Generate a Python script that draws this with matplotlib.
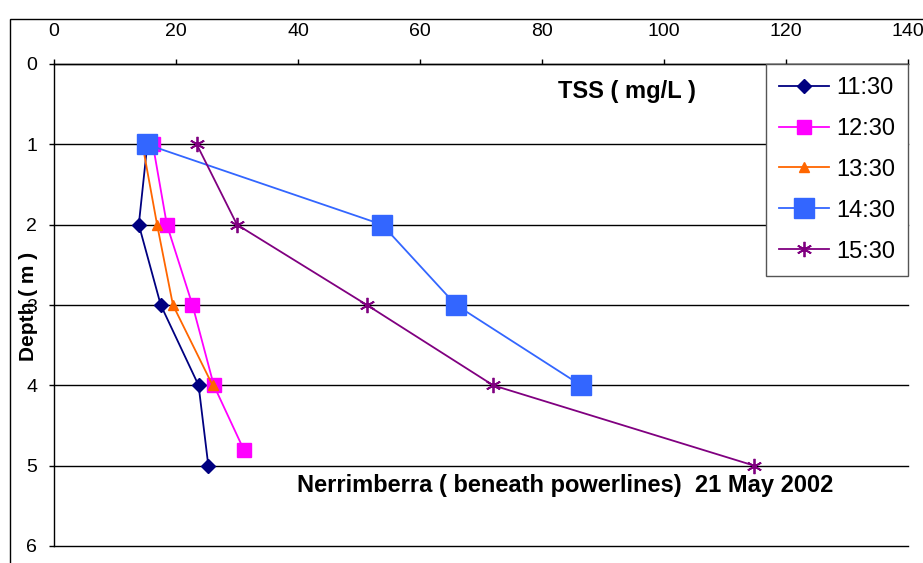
import matplotlib
matplotlib.use('Agg')
from matplotlib import pyplot as plt
from matplotlib.patches import Rectangle

plt.rcParams['font.family'] = ['Liberation Sans', 'DejaVu Sans']

# TSS (mg/L) by depth (m) for each sampling time
times = ['11:30', '12:30', '13:30', '14:30', '15:30']
depth_1130 = [1, 2, 3, 4, 5]
tss_1130 = [15.3, 13.9, 17.5, 23.7, 25.3]
depth_1230 = [1, 2, 3, 4, 4.8]
tss_1230 = [16.2, 18.5, 22.7, 26.2, 31.1]
depth_1330 = [1, 2, 3, 4]
tss_1330 = [14.5, 16.9, 19.5, 26.0]
depth_1430 = [1, 2, 3, 4]
tss_1430 = [15.2, 53.8, 65.9, 86.4]
depth_1530 = [1, 2, 3, 4, 5]
tss_1530 = [23.4, 30.0, 51.3, 72.0, 114.8]

x_ticks = [0, 20, 40, 60, 80, 100, 120, 140]
y_ticks = [0, 1, 2, 3, 4, 5, 6]

fig = plt.figure(figsize=(9.23, 5.63), dpi=100)
ax = fig.add_axes([54 / 923, 1 - 546 / 563, (908 - 54) / 923, (546 - 64) / 563])

# outer chart border
fig.patches.append(Rectangle((10 / 923, -0.1), 1.0, (563 - 19) / 563 + 0.1,
                             transform=fig.transFigure, fill=False,
                             edgecolor='black', linewidth=1.0))

ax.plot(tss_1130, depth_1130, color='#000080', marker='D', markersize=7, lw=1.3, label=times[0])
ax.plot(tss_1230, depth_1230, color='#FF00FF', marker='s', markersize=10, lw=1.3, label=times[1])
ax.plot(tss_1330, depth_1330, color='#FF6600', marker='^', markersize=7, lw=1.3, label=times[2])
ax.plot(tss_1430, depth_1430, color='#3366FF', marker='s', markersize=14, lw=1.3, label=times[3])
ax.plot(tss_1530, depth_1530, color='#800080', marker=(6, 2, 0), markersize=11, mew=1.3,
        lw=1.3, label=times[4])

ax.set_xlim(0, 140)
ax.set_ylim(6, 0)
ax.set_xticks(x_ticks)
ax.set_yticks(y_ticks)
ax.xaxis.tick_top()
ax.tick_params(axis='both', labelsize=14, direction='out', length=3.5, width=1.0)
ax.tick_params(axis='x', pad=14)
ax.tick_params(axis='y', pad=8.5)
ax.grid(axis='y', color='black', lw=1.0)
for gl in ax.get_ygridlines():
    gl.set_clip_on(False)
for s in ['right', 'bottom']:
    ax.spines[s].set_visible(False)
ax.spines['top'].set_linewidth(1.0)
ax.spines['left'].set_linewidth(1.0)

ax.text(0.671, 0.943, 'TSS ( mg/L )', transform=ax.transAxes, fontsize=17,
        fontweight='bold', ha='center', va='center')
ax.text(0.598, 0.1245, 'Nerrimberra ( beneath powerlines)  21 May 2002', transform=ax.transAxes,
        fontsize=17, fontweight='bold', ha='center', va='center')
fig.text(29 / 923, 1 - 306 / 563, 'Depth ( m )', rotation=90, fontsize=15,
         fontweight='bold', ha='center', va='center')

leg = ax.legend(loc='upper right', bbox_to_anchor=(1.0, 1.0), fontsize=17, frameon=True,
                fancybox=False, edgecolor='#555555', framealpha=1, handlelength=2.1,
                borderaxespad=0, labelspacing=0.8, handletextpad=0.3, borderpad=0.55)
leg.get_frame().set_linewidth(1.0)

fig.savefig('out.png', dpi=100)
